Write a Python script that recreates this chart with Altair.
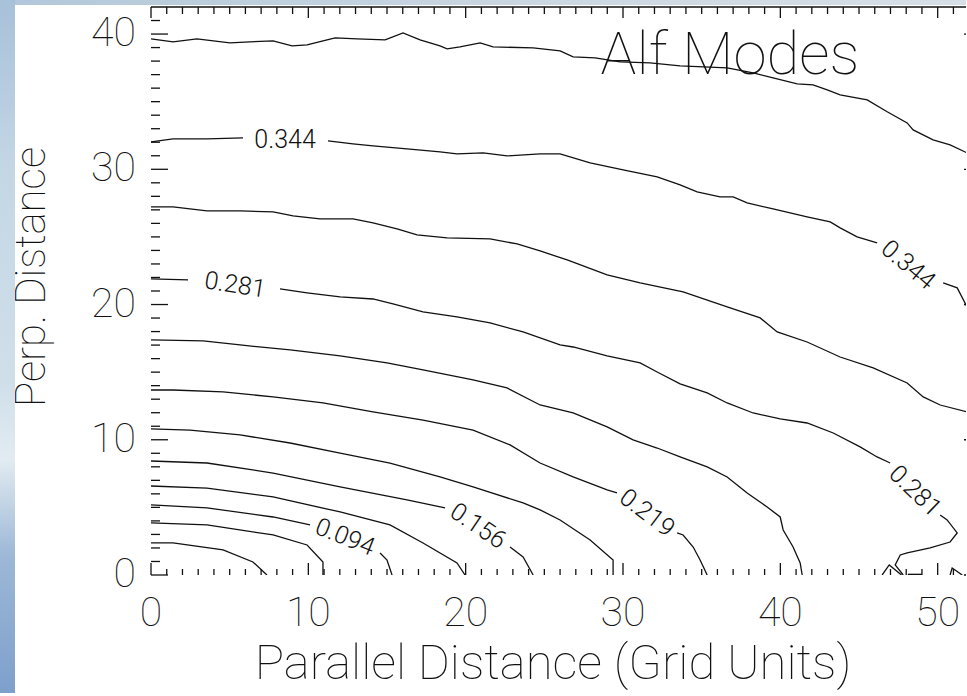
import altair as alt
import pandas as pd

# ---------------------------------------------------------------------------
# Contour levels (k/32); every other level from 3/32 carries a label
levels = [0.031, 0.0625, 0.094, 0.125, 0.156, 0.1875, 0.219, 0.25, 0.281, 0.3125, 0.344, 0.375]

# Contour paths in grid units.  None marks a break where a label sits.
c01_x = [0, 1.40, 4.58, 6.48, 7.37]
c01_y = [2.37, 2.37, 1.85, 0.96, 0]

c02_x = [0, 3.56, 7.76, 9.92, 10.93, 10.93]
c02_y = [3.85, 3.70, 2.96, 2.22, 0.96, 0]

c03_x = [0, 3.56, 7.76, 10.11, None, 14.56, 15.00, 15.32]
c03_y = [5.18, 4.96, 4.29, 3.70, None, 1.63, 1.11, 0]

c04_x = [0, 3.56, 7.76, 12.02, 15.19, 17.29, 19.45, 19.96]
c04_y = [6.58, 6.43, 5.77, 4.66, 3.70, 2.37, 0.89, 0]

c05_x = [0, 3.56, 7.76, 12.02, 16.27, 18.69, None, 22.82, 23.65, 24.29]
c05_y = [8.43, 8.28, 7.54, 6.51, 5.55, 4.96, None, 2.07, 1.33, 0]

c06_x = [0, 2.48, 5.66, 8.84, 12.02, 15.19, 18.37, 20.47, 23.65, 24.73, 26.00, 27.91, 29.37, 29.37]
c06_y = [10.80, 10.72, 10.36, 9.76, 9.02, 8.28, 7.25, 6.51, 5.33, 4.81, 4.07, 2.59, 1.11, 0]

c07_x = [0, 1.40, 4.58, 7.76, 10.93, 14.11, 17.29, 20.47, 22.82, 24.73, 26.83, 28.99, 29.62,
         None, 33.44, 33.82, 34.46, 34.90, 35.35]
c07_y = [13.68, 13.68, 13.54, 13.17, 12.72, 12.06, 11.46, 10.72, 9.62, 8.28, 7.25, 6.29, 6.07,
         None, 3.11, 2.96, 2.07, 1.11, 0]

c08_x = [0, 3.31, 5.66, 8.84, 12.02, 15.00, 17.29, 20.47, 22.63, 24.73, 26.83, 28.99, 30.64,
         32.17, 33.63, 35.35, 36.62, 37.89, 39.16, 39.99, 40.18, 40.81, 41.26, 41.39]
c08_y = [17.38, 17.31, 17.01, 16.64, 16.20, 15.68, 15.16, 14.42, 13.83, 12.57, 11.98, 10.95, 9.99,
         9.39, 8.73, 7.99, 7.25, 6.07, 5.03, 4.29, 3.33, 2.07, 0.89, 0]

c09_x = [0, 2.35, None, 8.20, 9.92, 12.02, 14.11, 15.38, 17.29, 19.45, 21.55, 23.65, 26.00, 26.83,
         28.99, 31.09, 32.17, 33.63, 35.35, 36.62, 38.27, 39.99, 41.70, 43.36, 45.07, 46.15, 46.98,
         None, 50.16, 50.60, 51.24, 50.79, 49.52, 48.06, 47.62, 47.30, 47.81]
c09_y = [21.89, 21.82, None, 21.15, 20.86, 20.56, 20.41, 20.04, 19.45, 19.08, 18.64, 17.97, 17.01, 16.86,
         16.20, 15.68, 15.01, 14.13, 13.46, 12.72, 11.98, 11.54, 11.24, 10.50, 9.47, 8.73, 8.28,
         None, 4.44, 4.07, 3.11, 2.44, 2.00, 1.63, 1.48, 0.74, 0]

c10_x = [0, 1.40, 3.56, 5.66, 7.76, 9.03, 10.74, 12.84, 14.11, 15.64, 16.91, 18.82, 21.55, 23.27,
         24.73, 26.45, 28.99, 31.09, 33.82, 36.62, 38.72, 39.80, 41.70, 43.80, 45.90, 48.06, 49.08,
         50.16, 51.87]
c10_y = [27.22, 27.22, 26.92, 26.92, 26.85, 26.55, 26.33, 26.33, 26.04, 25.59, 25.15, 24.93, 24.85, 24.48,
         23.96, 23.30, 22.19, 21.60, 20.93, 19.82, 19.01, 17.97, 17.23, 16.12, 15.31, 14.20, 13.17,
         12.57, 12.06]

c11_x = [0, 1.40, 3.56, 5.85, None, 11.25, 12.84, 14.11, 16.27, 18.37, 19.45, 21.11, 22.63, 24.73,
         26.00, 27.91, 30.01, 32.17, 33.63, 34.71, 36.17, 37.00, 37.89, 39.54, 41.70, 43.17, 43.80,
         44.88, 46.15, None, 50.35, 51.24, 51.87]
c11_y = [32.03, 32.25, 32.25, 32.32, None, 32.10, 31.88, 31.73, 31.51, 31.29, 31.14, 31.21, 30.99, 31.14,
         31.14, 30.47, 29.96, 29.44, 28.85, 28.33, 27.96, 27.96, 27.51, 27.07, 26.48, 26.11, 25.67,
         25.00, 24.56, None, 21.60, 21.23, 19.82]

c12_x = [0, 1.40, 2.92, 5.02, 6.29, 7.76, 8.96, 9.92, 11.70, 13.10, 14.88, 16.02, 17.10, 18.37, 18.82,
         19.64, 20.92, 21.74, 24.29, 26.00, 26.83, 28.23, 29.82, 31.72, 33.63, 36.62, 38.27, 39.54,
         41.07, 42.08, 42.98, 43.80, 45.52, 46.79, 48.06, 48.44, 49.71, 50.79, 51.87]
c12_y = [39.64, 39.42, 39.64, 39.35, 39.42, 39.50, 39.13, 39.20, 39.72, 39.64, 39.57, 40.09, 39.57, 39.13, 38.91,
         39.05, 39.35, 39.05, 38.98, 38.76, 38.31, 38.24, 37.94, 37.87, 37.65, 37.50, 37.13, 36.76,
         36.32, 36.24, 35.87, 35.50, 35.13, 34.25, 33.43, 32.91, 32.17, 31.80, 31.21]

# small closed pieces touching the lower boundary near the right edge
p1_x = [46.47, 46.92, 47.70]
p1_y = [0, 0.74, 0]
p2_x = [50.79, 50.92, 51.56]
p2_y = [0, 0.52, 0]
p3_x = [48.1, 49.0]
p3_y = [0.05, 0.05]

# Inline contour labels
lab_text = ["0.344", "0.281", "0.094", "0.156", "0.219", "0.281", "0.344"]
lab_x = [8.52, 5.34, 12.33, 20.79, 31.53, 48.57, 48.12]
lab_y = [32.17, 21.45, 2.81, 3.62, 4.59, 6.21, 22.93]
lab_angle = [0, 9, 22, 34, 37, 44, 40]

# Panel annotation
note_text = ["Alf Modes"]
note_x = [36.8]
note_y = [38.4]

# Axis ticks and titles
x_major = [0, 10, 20, 30, 40, 50]
y_major = [0, 10, 20, 30, 40]
x_minor = [v for v in range(0, 52) if v % 10]
y_minor = [v for v in range(0, 42) if v % 10]
x_title = ["Parallel Distance (Grid Units)"]
y_title = ["Perp. Distance"]

X_DOMAIN = [0, 51.8]
Y_DOMAIN = [0, 42]
W, H = 815, 568
FONT = "Roboto"
INK = "#111111"

# ---------------------------------------------------------------------------
contours = [c01_x, c02_x, c03_x, c04_x, c05_x, c06_x, c07_x, c08_x, c09_x, c10_x, c11_x, c12_x]
contours_y = [c01_y, c02_y, c03_y, c04_y, c05_y, c06_y, c07_y, c08_y, c09_y, c10_y, c11_y, c12_y]

rows = []
for i, (xs, ys) in enumerate(zip(contours, contours_y)):
    seg = 0
    for j, (x, y) in enumerate(zip(xs, ys)):
        if x is None:
            seg += 1
            continue
        rows.append({"level": levels[i], "piece": f"c{i}-{seg}", "order": j, "x": x, "y": y})
for k, (xs, ys) in enumerate([(p1_x, p1_y), (p2_x, p2_y), (p3_x, p3_y)]):
    for j, (x, y) in enumerate(zip(xs, ys)):
        rows.append({"level": levels[8], "piece": f"p{k}", "order": j, "x": x, "y": y})
lines_df = pd.DataFrame(rows)

labels_df = pd.DataFrame({"text": lab_text, "x": lab_x, "y": lab_y, "angle": lab_angle})
note_df = pd.DataFrame({"text": note_text, "x": note_x, "y": note_y})

xs_ = alt.Scale(domain=X_DOMAIN, nice=False, zero=False)
ys_ = alt.Scale(domain=Y_DOMAIN, nice=False, zero=False)

# axes supply only the frame lines; ticks and text are drawn as layers below
x_axis = alt.Axis(labels=False, ticks=False, grid=False, title=None,
                  domainColor=INK, domainWidth=1.6)
y_axis = alt.Axis(labels=False, ticks=False, grid=False, title=None,
                  domainColor=INK, domainWidth=1.6)

contour_lines = alt.Chart(lines_df).mark_line(color=INK, strokeWidth=1.3, clip=True).encode(
    x=alt.X("x:Q", scale=xs_, axis=x_axis),
    y=alt.Y("y:Q", scale=ys_, axis=y_axis),
    detail="piece:N",
    order="order:Q",
)

contour_labels = alt.Chart(labels_df).mark_text(
    font=FONT, fontSize=25, fontWeight=300, color=INK, align="center", baseline="middle"
).encode(
    x=alt.X("x:Q", scale=xs_, axis=None),
    y=alt.Y("y:Q", scale=ys_, axis=None),
    text="text:N",
    angle=alt.Angle("angle:Q", scale=None),
)

note = alt.Chart(note_df).mark_text(
    font=FONT, fontSize=60, fontWeight=100, color=INK, align="center", baseline="middle"
).encode(
    x=alt.X("x:Q", scale=xs_, axis=None),
    y=alt.Y("y:Q", scale=ys_, axis=None),
    text="text:N",
)

x_tick_labels = alt.Chart(pd.DataFrame({"v": x_major})).mark_text(
    font=FONT, fontSize=41, fontWeight=100, color=INK, align="center", baseline="middle"
).encode(x=alt.X("v:Q", scale=xs_, axis=None), y=alt.value(H + 39), text="v:Q")

y_tick_labels = alt.Chart(pd.DataFrame({"v": y_major})).mark_text(
    font=FONT, fontSize=41, fontWeight=100, color=INK, align="right", baseline="middle"
).encode(y=alt.Y("v:Q", scale=ys_, axis=None), x=alt.value(-15), text="v:Q")

x_title_text = alt.Chart(pd.DataFrame({"t": x_title})).mark_text(
    font=FONT, fontSize=49, fontWeight=100, color=INK, align="center", baseline="middle"
).encode(x=alt.value(402), y=alt.value(H + 89), text="t:N")

y_title_text = alt.Chart(pd.DataFrame({"t": y_title})).mark_text(
    font=FONT, fontSize=42, fontWeight=100, color=INK, align="center", baseline="middle",
    angle=270,
).encode(x=alt.value(-119), y=alt.value(270), text="t:N")


def vticks(values, y0, y1):
    return alt.Chart(pd.DataFrame({"v": values})).mark_rule(color=INK, strokeWidth=1.3).encode(
        x=alt.X("v:Q", scale=xs_, axis=None), y=alt.value(y0), y2=alt.value(y1)
    )


def hticks(values, x0, x1):
    return alt.Chart(pd.DataFrame({"v": values})).mark_rule(color=INK, strokeWidth=1.3).encode(
        y=alt.Y("v:Q", scale=ys_, axis=None), x=alt.value(x0), x2=alt.value(x1)
    )


ticks = [
    vticks(x_major, H, H - 12), vticks(x_minor, H, H - 6),   # bottom
    vticks(x_major, 0, 11), vticks(x_minor, 0, 7),           # top
    hticks(y_major, 0, 17), hticks(y_minor, 0, 9),           # left
    hticks(y_major, W - 2, W + 1),                           # right-hand ticks reaching in
]

top_frame = alt.Chart(pd.DataFrame({"a": [X_DOMAIN[0]], "b": [X_DOMAIN[1]]})).mark_rule(
    color=INK, strokeWidth=1.6
).encode(x=alt.X("a:Q", scale=xs_, axis=None), x2="b:Q", y=alt.value(0))

# slide backdrop strips along the left and top edges
left_strip = alt.Chart(pd.DataFrame({"a": [0]})).mark_rect(
    color=alt.LinearGradient(
        gradient="linear", x1=0, x2=0, y1=0, y2=1,
        stops=[
            alt.GradientStop(color="#a7c1d9", offset=0),
            alt.GradientStop(color="#c4d7e5", offset=0.25),
            alt.GradientStop(color="#cfdfea", offset=0.55),
            alt.GradientStop(color="#e2ebf1", offset=0.66),
            alt.GradientStop(color="#9cb8d6", offset=0.8),
            alt.GradientStop(color="#7d9fcb", offset=1),
        ],
    )
).encode(x=alt.value(-151), x2=alt.value(-136), y=alt.value(-7), y2=alt.value(689))

top_strip = alt.Chart(pd.DataFrame({"a": [0]})).mark_rect(
    color=alt.LinearGradient(
        gradient="linear", x1=0, x2=1, y1=0, y2=0,
        stops=[
            alt.GradientStop(color="#b2c8da", offset=0),
            alt.GradientStop(color="#c9d6e1", offset=0.5),
            alt.GradientStop(color="#d7dfe6", offset=1),
        ],
    )
).encode(x=alt.value(-136), x2=alt.value(816), y=alt.value(-7), y2=alt.value(-2))

chart = alt.layer(
    contour_lines, contour_labels, note, x_tick_labels, y_tick_labels,
    x_title_text, y_title_text, *ticks, top_frame, left_strip, top_strip
).properties(
    width=W, height=H,
    autosize=alt.AutoSizeParams(type="none"),
    padding={"left": 151, "top": 7, "right": 0, "bottom": 118},
    background="white",
).configure_view(stroke=None)

chart.save("out.html", embed_options={"renderer": "svg", "actions": False})
